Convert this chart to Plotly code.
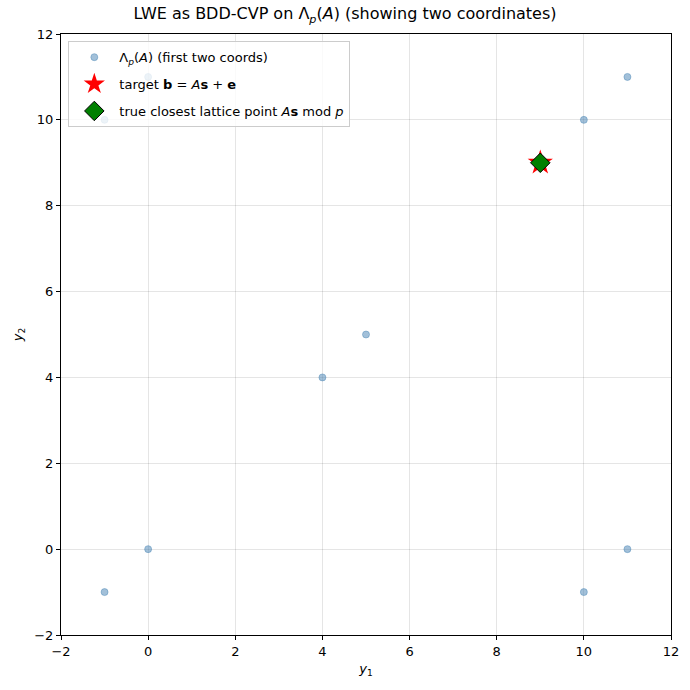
import plotly.graph_objects as go

lat_x = [0, 4, 5, 10, 11, -1, 10, 11, -1, 0, 9]
lat_y = [0, 4, 5, 10, 11, -1, -1, 0, 10, 11, 9]
target_x = [9]
target_y = [9]
close_x = [9]
close_y = [9]
ticks = [-2, 0, 2, 4, 6, 8, 10, 12]

fig = go.Figure()
fig.add_trace(go.Scatter(x=lat_x, y=lat_y, mode="markers", legendgroup="a",
    name="Λ<sub><i>p</i></sub>(<i>A</i>) (first two coords)",
    marker=dict(color="rgba(70,130,180,0.5)", size=7,
                line=dict(width=0.8, color="rgba(70,130,180,0.55)"))))
fig.add_trace(go.Scatter(x=target_x, y=target_y, mode="markers", legendgroup="b",
    name="target <b>b</b> = <i>A</i><b>s</b> + <b>e</b>",
    marker=dict(color="red", symbol="star", size=19, line=dict(width=0))))
fig.add_trace(go.Scatter(x=close_x, y=close_y, mode="markers", legendgroup="c",
    name="true closest lattice point <i>A</i><b>s</b> mod <i>p</i>",
    marker=dict(color="green", symbol="diamond", size=15, line=dict(color="black", width=1))))

axis = dict(range=[-2, 12], tickvals=ticks, showgrid=True, gridcolor="rgba(0,0,0,0.1)",
            zeroline=False, showline=True, linecolor="black", linewidth=1, mirror=True,
            ticks="outside", ticklen=4, tickcolor="black", tickfont=dict(size=13, color="black"))
fig.update_layout(
    width=690, height=690,
    margin=dict(l=61, r=19, t=34, b=55),
    plot_bgcolor="white", paper_bgcolor="white",
    font=dict(family="DejaVu Sans", color="black", size=13),
    title=dict(text="LWE as BDD-CVP on Λ<sub><i>p</i></sub>(<i>A</i>) (showing two coordinates)",
               x=0.5, xanchor="center", y=0.988, yanchor="top", font=dict(size=16)),
    xaxis=dict(axis, title=dict(text="<i>y</i><sub>1</sub>", standoff=6, font=dict(size=13))),
    yaxis=dict(axis, title=dict(text="<i>y</i><sub>2</sub>", standoff=8, font=dict(size=13))),
    legend=dict(x=0.012, y=0.988, xanchor="left", yanchor="top",
                bgcolor="rgba(255,255,255,0.8)", bordercolor="#cccccc", borderwidth=1,
                font=dict(size=13), tracegroupgap=7, itemwidth=40),
)
fig.write_html("out.html")
